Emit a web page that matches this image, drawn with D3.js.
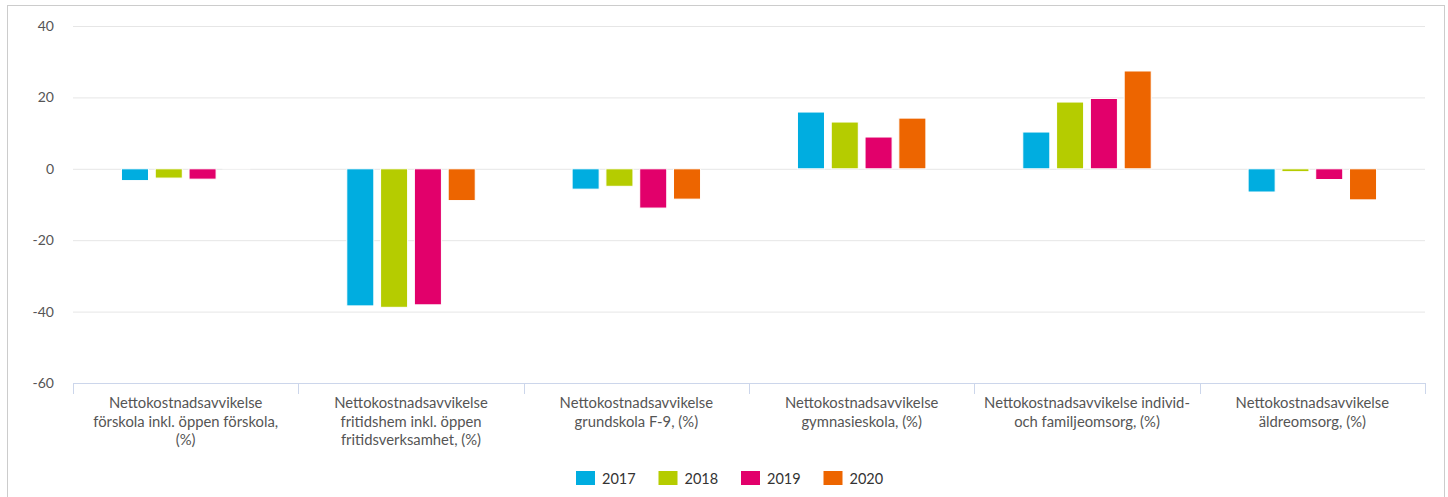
<!DOCTYPE html>
<html>
<head>
<meta charset="utf-8">
<script src="https://cdn.jsdelivr.net/npm/d3@7"></script>
<style>
  html, body { margin: 0; padding: 0; background: #fff; }
  svg { display: block; font-family: "Lato", "Open Sans", sans-serif; }
</style>
</head>
<body>
<svg id="chart" width="1448" height="497"></svg>
<script>
// Category labels, already broken into lines
const categories = [
  ["Nettokostnadsavvikelse", "förskola inkl. öppen förskola,", "(%)"],
  ["Nettokostnadsavvikelse", "fritidshem inkl. öppen", "fritidsverksamhet, (%)"],
  ["Nettokostnadsavvikelse", "grundskola F-9, (%)"],
  ["Nettokostnadsavvikelse", "gymnasieskola, (%)"],
  ["Nettokostnadsavvikelse individ-", "och familjeomsorg, (%)"],
  ["Nettokostnadsavvikelse", "äldreomsorg, (%)"]
];
const years = ["2017", "2018", "2019", "2020"];
const v2017 = [-3.3, -38.4, -5.7, 15.9, 10.3, -6.5];
const v2018 = [-2.6, -38.8, -4.9, 13.1, 18.7, -0.8];
const v2019 = [-2.9, -38.1, -11.0, 8.9, 19.7, -3.0];
const v2020 = [0, -8.9, -8.5, 14.2, 27.4, -8.7];
const yTicks = [-60, -40, -20, 0, 20, 40];
const colors = ["#00ade0", "#b5cc00", "#e2006b", "#ed6500"];

const series = [v2017, v2018, v2019, v2020];

const svg = d3.select("#chart");
const W = 1448, H = 497;
const plot = { left: 73, right: 1425, top: 26, bottom: 383 };

// Outer frame
svg.append("rect")
  .attr("x", 7.5).attr("y", 5.5)
  .attr("width", 1437).attr("height", H)
  .attr("fill", "#fff").attr("stroke", "#cccccc");

const x = d3.scaleBand()
  .domain(d3.range(categories.length))
  .range([plot.left, plot.right])
  .paddingInner(0).paddingOuter(0);

const y = d3.scaleLinear().domain([-60, 40]).range([plot.bottom, plot.top]);

// Group occupies 60% of each category; each slot keeps 10% padding per side
const groupPad = 0.2 * x.bandwidth();
const slot = (x.bandwidth() - 2 * groupPad) / years.length;
const barW = slot * 0.8;

// Gridlines and value labels
const yAxis = d3.axisLeft(y)
  .tickValues(yTicks)
  .tickFormat(d => String(d))
  .tickSize(-(plot.right - plot.left))
  .tickPadding(19);
const gy = svg.append("g")
  .attr("transform", `translate(${plot.left},0)`)
  .call(yAxis);
gy.select(".domain").remove();
gy.selectAll(".tick line").attr("stroke", "#e6e6e6").attr("stroke-width", 1);
gy.selectAll(".tick text")
  .attr("fill", "#555")
  .attr("font-size", 14)
  .attr("font-family", "Lato, sans-serif");
gy.selectAll(".tick").filter(d => d === -60).select("line").remove();

// Bars
const data = [];
series.forEach((vals, s) => vals.forEach((v, i) => data.push({ s, i, v })));
svg.append("g").selectAll("rect")
  .data(data)
  .join("rect")
  .attr("x", d => x(d.i) + groupPad + d.s * slot + (slot - barW) / 2)
  .attr("width", barW)
  .attr("y", d => Math.min(y(d.v), y(0)))
  .attr("height", d => Math.max(Math.abs(y(d.v) - y(0)), 0.01))
  .attr("fill", d => colors[d.s])
  .attr("stroke", "#ffffff")
  .attr("stroke-width", 1);

// Category axis
const gx = svg.append("g").attr("transform", `translate(0,${plot.bottom})`);
gx.append("line")
  .attr("x1", plot.left).attr("x2", plot.right)
  .attr("y1", 0.5).attr("y2", 0.5)
  .attr("stroke", "#ccd6eb");
const bounds = d3.range(categories.length + 1).map(i => plot.left + i * x.bandwidth());
gx.selectAll(".tk").data(bounds).join("line")
  .attr("x1", d => Math.round(d) + 0.5).attr("x2", d => Math.round(d) + 0.5)
  .attr("y1", 0).attr("y2", 11)
  .attr("stroke", "#ccd6eb");
const lab = gx.selectAll(".lab").data(categories).join("text")
  .attr("text-anchor", "middle")
  .attr("fill", "#555")
  .attr("font-size", 14.8)
  .attr("transform", (d, i) => `translate(${x(i) + x.bandwidth() / 2},25)`);
lab.selectAll("tspan").data(d => d).join("tspan")
  .attr("x", 0)
  .attr("dy", (d, j) => j === 0 ? 0 : 18.7)
  .text(d => d);

// Legend
const lg = svg.append("g").attr("transform", "translate(576,471)");
const items = lg.selectAll("g").data(years).join("g")
  .attr("transform", (d, i) => `translate(${i * 82.5},0)`);
items.append("rect").attr("width", 19).attr("height", 14).attr("fill", (d, i) => colors[i]);
items.append("text").attr("x", 26).attr("y", 13)
  .attr("font-size", 14.5).attr("fill", "#333").text(d => d);
</script>
</body>
</html>
